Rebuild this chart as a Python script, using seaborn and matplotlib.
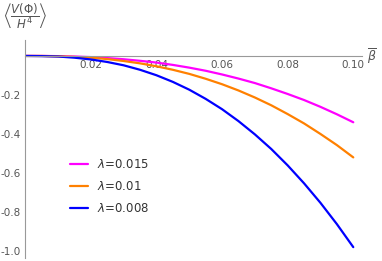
import numpy as np
import pandas as pd
import matplotlib
matplotlib.use("Agg")
import matplotlib.pyplot as plt
from matplotlib.ticker import MultipleLocator, FixedLocator
import seaborn as sns

# beta-bar values sampled along the curves
beta = [0.0, 0.005, 0.01, 0.015, 0.02, 0.025, 0.03, 0.035, 0.04, 0.045, 0.05,
        0.055, 0.06, 0.065, 0.07, 0.075, 0.08, 0.085, 0.09, 0.095, 0.1]
# <V(Phi)/H^4>, one list per lambda
v_015 = [0, 0, -0.001, -0.003, -0.006, -0.011, -0.017, -0.025, -0.034, -0.046, -0.060,
         -0.076, -0.095, -0.116, -0.139, -0.166, -0.195, -0.226, -0.261, -0.299, -0.34]
v_010 = [0, 0, -0.002, -0.005, -0.009, -0.016, -0.026, -0.038, -0.053, -0.071, -0.092,
         -0.117, -0.145, -0.177, -0.213, -0.253, -0.298, -0.346, -0.400, -0.457, -0.52]
v_008 = [0, -0.001, -0.003, -0.009, -0.018, -0.031, -0.048, -0.071, -0.099, -0.133, -0.173,
         -0.220, -0.273, -0.334, -0.402, -0.477, -0.561, -0.653, -0.753, -0.862, -0.98]
labels = [r"$\lambda$=0.015", r"$\lambda$=0.01", r"$\lambda$=0.008"]
colors = ["#ff00ff", "#ff8000", "#0000ff"]

df = pd.concat([
    pd.DataFrame({"beta": beta, "V": v, "lam": lab})
    for v, lab in zip([v_015, v_010, v_008], labels)
], ignore_index=True)

sns.set_style("white")
plt.rcParams['font.family'] = ['DejaVu Sans']
plt.rcParams['mathtext.fontset'] = 'dejavusans'

fig = plt.figure(figsize=(3.82, 2.61), dpi=100)
ax = fig.add_axes([0.066, 0.012, 0.882, 0.835])

sns.lineplot(data=df, x="beta", y="V", hue="lam", palette=dict(zip(labels, colors)),
             hue_order=labels, linewidth=1.6, ax=ax, sort=False)

gray = "#999999"
txt = "#555555"
ax.set_xlim(0, 0.1027)
ax.set_ylim(-1.035, 0.082)
for s in ["top", "right"]:
    ax.spines[s].set_visible(False)
ax.spines["bottom"].set_position(("data", 0))
ax.spines["left"].set_position(("data", 0))
ax.spines["bottom"].set_color(gray)
ax.spines["left"].set_color(gray)
ax.spines["bottom"].set_linewidth(0.8)
ax.spines["left"].set_linewidth(0.8)

ax.xaxis.set_major_locator(FixedLocator([0.02, 0.04, 0.06, 0.08, 0.10]))
ax.xaxis.set_minor_locator(MultipleLocator(0.005))
ax.yaxis.set_major_locator(FixedLocator([-0.2, -0.4, -0.6, -0.8, -1.0]))
ax.yaxis.set_minor_locator(MultipleLocator(0.05))
ax.set_xticklabels(["0.02", "0.04", "0.06", "0.08", "0.10"])
ax.set_yticklabels(["-0.2", "-0.4", "-0.6", "-0.8", "-1.0"])
ax.tick_params(axis="both", which="both", direction="in", colors=gray, labelcolor=txt,
               labelsize=7.5, pad=3)
ax.tick_params(which="major", length=4, width=0.7)
ax.tick_params(which="minor", length=2.5, width=0.6)

ax.set_xlabel("")
ax.set_ylabel("")
fig.text(0.975, 0.785, r"$\overline{\beta}$", color=txt, fontsize=9, ha="center", va="center")
fig.text(0.008, 0.995, r"$\left\langle\dfrac{V(\Phi)}{H^4}\right\rangle$", color=txt,
         fontsize=8.5, ha="left", va="top")

leg = ax.legend(loc="upper left", bbox_to_anchor=(0.1, 0.505), frameon=False,
                fontsize=8.5, handlelength=1.6, labelspacing=0.75, handletextpad=0.7)
for t in leg.get_texts():
    t.set_color("#333333")
for line in leg.get_lines():
    line.set_linewidth(1.6)

fig.savefig("out.png", dpi=100)
